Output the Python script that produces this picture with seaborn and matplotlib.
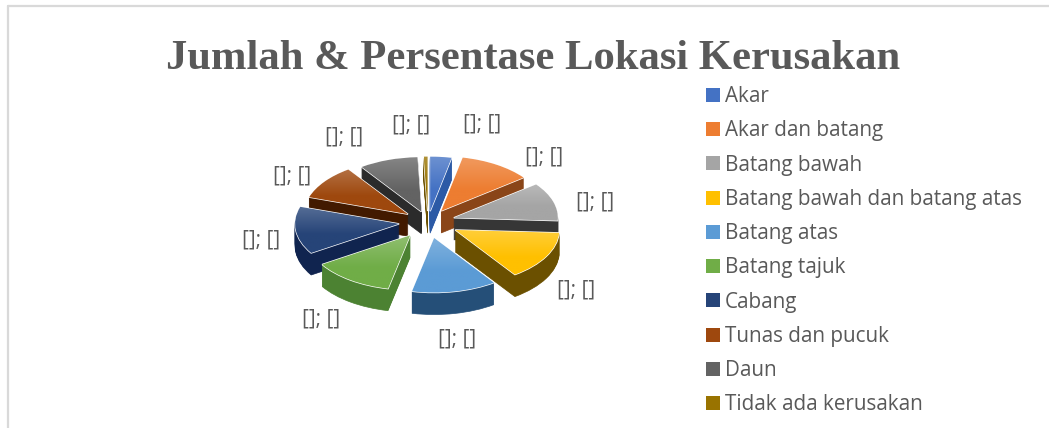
import numpy as np
import matplotlib
matplotlib.use('Agg')
import matplotlib.pyplot as plt
from matplotlib.lines import Line2D
from matplotlib.patches import Patch
from matplotlib.colors import to_rgb
import seaborn as sns

title = 'Jumlah & Persentase Lokasi Kerusakan'
categories = ['Akar', 'Akar dan batang', 'Batang bawah', 'Batang bawah dan batang atas',
              'Batang atas', 'Batang tajuk', 'Cabang', 'Tunas dan pucuk', 'Daun',
              'Tidak ada kerusakan']
values = [3.3, 11.2, 11.3, 14.4, 13.1, 12.6, 14.0, 10.2, 9.1, 0.6]
data_labels = ['[]; []'] * 10

top_colors = ['#4472c4', '#ed7d31', '#a5a5a5', '#ffc000', '#5b9bd5',
              '#70ad47', '#264478', '#9e480e', '#636363', '#997300']
side_colors = ['#2c5aa6', '#8a4518', '#363636', '#6b5000', '#254f78',
               '#4c8232', '#10244f', '#421a00', '#2b2b2b', '#6b5000']
explode = [0.2, 0.24, 0.26, 0.3, 0.3, 0.3, 0.28, 0.24, 0.2, 0.2]

W, H = 1049, 428
RX, RY = 104.0, 54.5
CX, CY = 428, 222
DEPTH_PX = 22


def px(x, y):
    return x / W, 1 - y / H


sns.set_theme(style='white')
plt.rcParams['font.family'] = ['Open Sans', 'DejaVu Sans']

fig = plt.figure(figsize=(W / 100, H / 100), dpi=100, facecolor='white')
ax = fig.add_axes([0, 0, 1, 1])

mids = np.cumsum(values) - np.array(values) / 2
mids = mids / sum(values) * 2 * np.pi
rank = np.argsort(np.argsort(-np.cos(mids)))

# side walls, stacked pies going downwards
for k in range(DEPTH_PX, 0, -1):
    wedges, _ = ax.pie(values, explode=explode, colors=side_colors, startangle=90,
                       counterclock=False, center=(0, -k / RY))
    for i, w in enumerate(wedges):
        w.set_zorder(rank[i] * 100 + (DEPTH_PX - k))
        w.set_edgecolor(side_colors[i])
        w.set_linewidth(0.5)

tops, _ = ax.pie(values, explode=explode, colors=top_colors, startangle=90, counterclock=False)
xlim = (-CX / RX, (W - CX) / RX)
ylim = (-(H - CY) / RY, CY / RY)

# top faces get a light to full vertical gradient
for i, w in enumerate(tops):
    w.set_zorder(rank[i] * 100 + 50)
    c = np.array(to_rgb(top_colors[i]))
    t = 1 - np.clip(np.linspace(0, 1, 64) / 0.6, 0, 1)[:, None, None]
    grad = (c * (1 - 0.22 * t) + 0.22 * t) * np.ones((64, 2, 3))
    bb = w.get_path().get_extents(w.get_patch_transform())
    im = ax.imshow(grad, extent=(bb.x0, bb.x1, bb.y0, bb.y1), aspect='auto', zorder=rank[i] * 100 + 51)
    im.set_clip_path(w)

ax.set_aspect('auto')
ax.set_xlim(xlim)
ax.set_ylim(ylim)
ax.axis('off')

label_pos = [(482, 124), (544, 157), (595, 202), (576, 290), (457, 339),
             (321, 319), (261, 240), (292, 176), (344, 137), (411, 125)]
for txt, (lx, ly) in zip(data_labels, label_pos):
    fx, fy = px(lx, ly)
    fig.text(fx, fy, txt, ha='center', va='center', fontsize=15, color='#595959')

fig.text(*px(533, 59), title, ha='center', va='center', fontsize=30.7, fontweight='bold',
         family='Liberation Serif', color='#595959')

handles = [Patch(facecolor=c, edgecolor='none') for c in top_colors]
leg_x, leg_y = px(700, 80)
leg = fig.legend(handles, categories, loc='upper left', bbox_to_anchor=(leg_x, leg_y), frameon=False,
                 fontsize=14.9, labelcolor='#595959', handlelength=0.67, handleheight=0.67,
                 handletextpad=0.25, labelspacing=0.64, borderaxespad=0, borderpad=0.3)

fig.add_artist(Line2D([8 / W, 8 / W], [0, 1 - 6 / H], color='#d9d9d9', lw=1.6))
fig.add_artist(Line2D([8 / W, 1], [1 - 6 / H, 1 - 6 / H], color='#d9d9d9', lw=1.6))

fig.savefig('out.png', dpi=100)
plt.close()
